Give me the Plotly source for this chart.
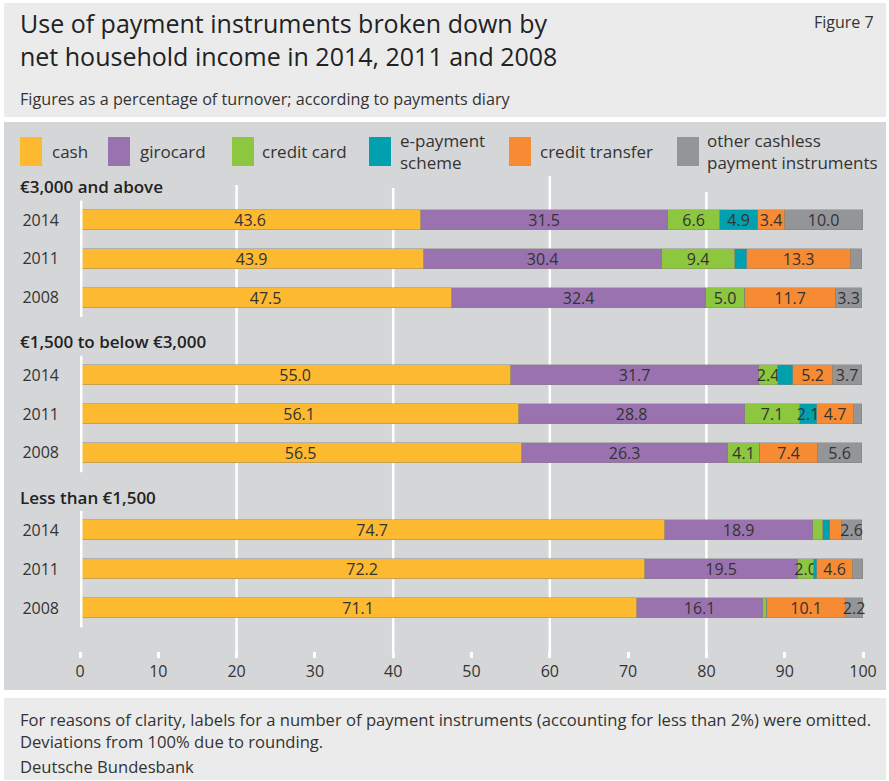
import plotly.graph_objects as go

# --- data -----------------------------------------------------------------
groups = ["€3,000 and above", "€1,500 to below €3,000", "Less than €1,500"]
years = ["2014", "2011", "2008"]

# shares in % of turnover, one value per (income group, year), top to bottom
cash = [43.6, 43.9, 47.5, 55.0, 56.1, 56.5, 74.7, 72.2, 71.1]
girocard = [31.5, 30.4, 32.4, 31.7, 28.8, 26.3, 18.9, 19.5, 16.1]
credit_card = [6.6, 9.4, 5.0, 2.4, 7.1, 4.1, 1.3, 2.0, 0.5]
e_payment = [4.9, 1.5, 0.0, 1.9, 2.1, 0.0, 0.9, 0.4, 0.0]
credit_transfer = [3.4, 13.3, 11.7, 5.2, 4.7, 7.4, 1.5, 4.6, 10.1]
other_cashless = [10.0, 1.4, 3.3, 3.7, 1.1, 5.6, 2.6, 1.3, 2.2]

series_names = ["cash", "girocard", "credit card", "e-payment<br>scheme",
                "credit transfer", "other cashless<br>payment instruments"]
series_values = [cash, girocard, credit_card, e_payment, credit_transfer, other_cashless]
series_colors = ["#fdb930", "#9b72b0", "#8dc63f", "#00a0af", "#f68b33", "#939598"]

x_ticks = list(range(0, 101, 10))
grid_values = [20, 40, 60, 80]

# --- layout helpers -------------------------------------------------------
W, H = 889, 781
ML, MR, MT, MB = 80, 26, 176, 130
PW, PH = W - ML - MR, H - MT - MB
FONT = "Open Sans"
TXT = "#333333"


def fx(px):
    return (px - ML) / PW


def fy(py):
    return 1 - (py - MT) / PH


# row positions: three years per group, one empty row between groups
row_y = [4 * g + j for g in range(len(groups)) for j in range(len(years))]
row_labels = [years[j] for g in range(len(groups)) for j in range(len(years))]

fig = go.Figure()
for name, vals, color in zip(series_names, series_values, series_colors):
    fig.add_trace(go.Bar(
        x=vals, y=row_y, orientation="h", name=name,
        marker=dict(color=color, line=dict(color="rgba(130,130,120,0.55)", width=0.8)),
        width=0.52,
        text=[f"{v:.1f}" if v >= 2 else "" for v in vals],
        textposition="inside", insidetextanchor="middle", textangle=0,
        insidetextfont=dict(family=FONT, size=16, color=TXT),
        constraintext="none", cliponaxis=False,
        showlegend=False, hoverinfo="skip",
    ))

shapes = []
# background panels
shapes.append(dict(type="rect", xref="paper", yref="paper", x0=fx(4), x1=fx(886),
                   y0=fy(3), y1=fy(117), fillcolor="#ebebeb", line_width=0, layer="below"))
shapes.append(dict(type="rect", xref="paper", yref="paper", x0=fx(4), x1=fx(886),
                   y0=fy(122), y1=fy(690), fillcolor="#d5d6d8", line_width=0, layer="below"))
shapes.append(dict(type="rect", xref="paper", yref="paper", x0=fx(4), x1=fx(886),
                   y0=fy(698), y1=fy(780), fillcolor="#ebebeb", line_width=0, layer="below"))

# vertical gridlines (tops stop below the legend texts)
grid_tops = {20: 185, 40: 188, 60: 176, 80: 192}
for gv in grid_values:
    shapes.append(dict(type="line", xref="x", yref="paper", x0=gv, x1=gv,
                       y0=fy(655), y1=fy(grid_tops[gv]),
                       line=dict(color="white", width=2.5), layer="below"))

# zero line, one segment per income group
for g in range(len(groups)):
    shapes.append(dict(type="line", xref="x", yref="y", x0=0, x1=0,
                       y0=4 * g - 0.5, y1=4 * g + 2.5,
                       line=dict(color="white", width=5), layer="above"))

# legend swatches
legend_x = [20, 108, 232, 369, 509, 677]
for lx, color in zip(legend_x, series_colors):
    shapes.append(dict(type="rect", xref="paper", yref="paper",
                       x0=fx(lx), x1=fx(lx + 22), y0=fy(166), y1=fy(137),
                       fillcolor=color, line_width=0))

annotations = []
legend_text_x = [50, 138, 260, 398, 538, 705]
for tx, name in zip(legend_text_x, series_names):
    annotations.append(dict(xref="paper", yref="paper", x=fx(tx), y=fy(152),
                            text=name, showarrow=False, xanchor="left", yanchor="middle",
                            align="left", font=dict(family=FONT, size=17, color=TXT)))

# group headers
for g, label in enumerate(groups):
    annotations.append(dict(xref="paper", yref="y", x=fx(18), y=4 * g - 0.86,
                            text=label, showarrow=False, xanchor="left", yanchor="middle",
                            font=dict(family=FONT, size=17, color="#222222", weight=600)))

# titles and notes
annotations += [
    dict(xref="paper", yref="paper", x=fx(18), y=fy(39),
         text="Use of payment instruments broken down by<br>net household income in 2014, 2011 and 2008",
         showarrow=False, xanchor="left", yanchor="middle", align="left",
         font=dict(family=FONT, size=25, color="#222222")),
    dict(xref="paper", yref="paper", x=fx(876), y=fy(22), text="Figure 7",
         showarrow=False, xanchor="right", yanchor="middle",
         font=dict(family=FONT, size=16, color=TXT)),
    dict(xref="paper", yref="paper", x=fx(18), y=fy(99),
         text="Figures as a percentage of turnover; according to payments diary",
         showarrow=False, xanchor="left", yanchor="middle",
         font=dict(family=FONT, size=16.2, color=TXT)),
    dict(xref="paper", yref="paper", x=fx(18), y=fy(730),
         text="For reasons of clarity, labels for a number of payment instruments "
              "(accounting for less than 2%) were omitted.<br>Deviations from 100% due to rounding.",
         showarrow=False, xanchor="left", yanchor="middle", align="left",
         font=dict(family=FONT, size=16.6, color=TXT)),
    dict(xref="paper", yref="paper", x=fx(18), y=fy(766),
         text="Deutsche Bundesbank", showarrow=False, xanchor="left", yanchor="middle",
         font=dict(family=FONT, size=16.6, color=TXT)),
]

y0_px, unit_px = 220, 38.8
fig.update_layout(
    width=W, height=H,
    margin=dict(l=ML, r=MR, t=MT, b=MB, pad=0),
    paper_bgcolor="white", plot_bgcolor="rgba(0,0,0,0)",
    barmode="stack", bargap=0,
    uniformtext=dict(minsize=16, mode="show"),
    font=dict(family=FONT, color=TXT),
    shapes=shapes, annotations=annotations,
    xaxis=dict(range=[0, 100], tickvals=x_ticks, ticks="outside", ticklen=6,
               tickwidth=3, tickcolor="white", showgrid=False, zeroline=False,
               showline=False, tickfont=dict(family=FONT, size=16, color=TXT)),
    yaxis=dict(range=[(MT + PH - y0_px) / unit_px, (MT - y0_px) / unit_px],
               tickvals=row_y, ticktext=row_labels, ticks="", showgrid=False,
               zeroline=False, showline=False, ticklabelstandoff=20,
               tickfont=dict(family=FONT, size=16, color=TXT)),
)

fig.write_html("out.html")
